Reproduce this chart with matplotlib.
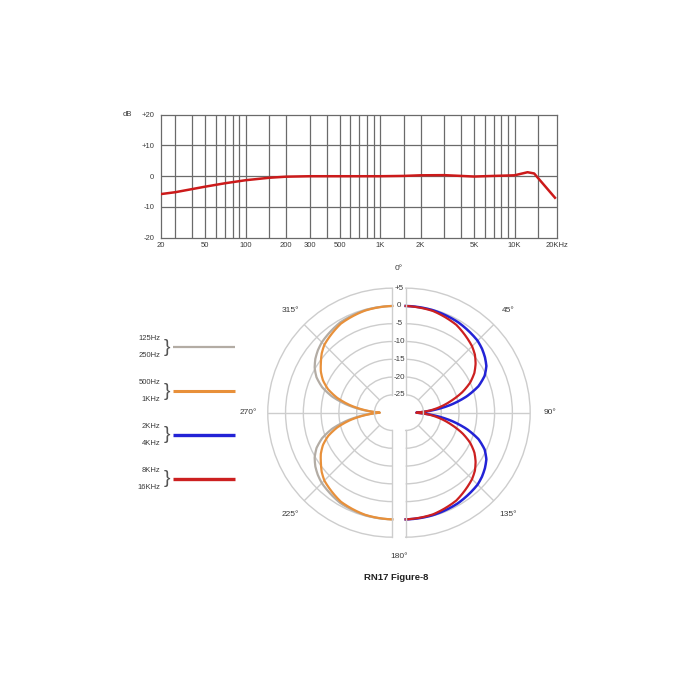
import numpy as np
import matplotlib
matplotlib.use("Agg")
import matplotlib.pyplot as plt
from matplotlib.transforms import offset_copy

plt.rcParams['font.family'] = ['Liberation Sans', 'DejaVu Sans']

# --- Frequency response (top chart) ---
FREQ_HZ = [20, 30, 50, 70, 100, 150, 200, 300, 500, 1000, 1500, 2000,
           3000, 4000, 5000, 7000, 10000, 12500, 14000, 20000]
RESP_DB = [-6.2, -5.2, -3.4, -2.3, -1.3, -0.5, -0.15, 0.0, 0.0, 0.0, 0.1, 0.3,
           0.35, 0.1, -0.1, 0.1, 0.3, 1.3, 0.9, -7.0]

FREQ_GRID = [30, 40, 50, 60, 70, 80, 90, 100, 150, 200, 300, 400, 500, 600,
             700, 800, 900, 1000, 1500, 2000, 3000, 4000, 5000, 6000, 7000,
             8000, 9000, 10000, 15000]
FREQ_LABELS = {50: "50", 100: "100", 200: "200", 300: "300", 500: "500",
               1000: "1K", 2000: "2K", 5000: "5K", 10000: "10K"}
DB_TICKS = [-20, -10, 0, 10, 20]
DB_LABELS = ["-20", "-10", "0", "+10", "+20"]

# --- Polar pattern (bottom chart) ---
ANG_R = [0, 15, 30, 45, 50, 55, 60, 65, 70, 75, 80, 85, 88, 90,
         92, 95, 100, 105, 110, 115, 120, 125, 130, 135, 150, 165, 180]
ANG_L = [180, 195, 210, 225, 230, 235, 240, 245, 250, 255, 260, 265, 268, 270,
         272, 275, 280, 285, 290, 295, 300, 305, 310, 315, 330, 345, 360]

PAT_125_250 = [0, -0.2, -0.7, -2.0, -2.7, -3.6, -4.8, -6.5, -9.0, -12.5, -17.0, -22.0, -25.0, -26.5,
               -25.0, -22.0, -17.0, -12.5, -9.0, -6.5, -4.8, -3.6, -2.7, -2.0, -0.7, -0.2, 0]
PAT_500_1K = [0, -0.3, -1.1, -3.0, -4.1, -5.5, -6.8, -8.5, -10.8, -14.0, -18.0, -22.5, -25.0, -26.5,
              -25.0, -22.5, -18.0, -14.0, -10.8, -8.5, -6.8, -5.5, -4.1, -3.0, -1.1, -0.3, 0]
PAT_2K_4K = [0, -0.2, -0.6, -1.4, -2.0, -2.8, -3.8, -5.5, -8.2, -12.2, -17.0, -22.5, -25.5, -27.0,
             -25.5, -22.5, -17.0, -12.2, -8.2, -5.5, -3.8, -2.8, -2.0, -1.4, -0.6, -0.2, 0]
PAT_8K_16K = [0, -0.4, -1.5, -3.6, -4.6, -6.0, -7.7, -10.0, -13.0, -16.5, -19.8, -23.2, -25.8, -27.0,
              -25.8, -23.2, -19.8, -16.5, -13.0, -10.0, -7.7, -6.0, -4.6, -3.6, -1.5, -0.4, 0]

RING_DB = [-20, -15, -10, -5, 0]
RING_LABELS = ["+5", "0", "-5", "-10", "-15", "-20", "-25"]
RING_LABEL_DB = [5, 0, -5, -10, -15, -20, -25]

BANDS = [("125Hz", "250Hz", "#b3aca4", 1.2),
         ("500Hz", "1KHz", "#e8903a", 1.8),
         ("2KHz", "4KHz", "#2323d6", 2.0),
         ("8KHz", "16KHz", "#cc2020", 2.0)]

GRID_DARK = "#6a6a6a"
GRID_LIGHT = "#cdcdcd"
TXT = "#3a3a3a"

fig = plt.figure(figsize=(7, 7), dpi=100)

# ---------------- top: frequency response ----------------
ax = fig.add_axes([0.23, 0.6604, 0.5657, 0.1757])
ax.set_xscale("log")
ax.set_xlim(23.5, 20700)
ax.set_ylim(-20, 20)
ax.plot(FREQ_HZ, RESP_DB, color="#cc1a1a", lw=1.8, zorder=3)
for f in FREQ_GRID:
    ax.axvline(f, color=GRID_DARK, lw=0.9, zorder=1)
for d in DB_TICKS[1:-1]:
    ax.axhline(d, color=GRID_DARK, lw=0.9, zorder=1)
for s in ax.spines.values():
    s.set_color(GRID_DARK)
    s.set_linewidth(0.9)
ax.xaxis.set_minor_locator(plt.NullLocator())
xt = [23.5] + list(FREQ_LABELS.keys()) + [20700]
ax.set_xticks(xt, ["20"] + list(FREQ_LABELS.values()) + ["20KHz"])
ax.set_yticks(DB_TICKS, DB_LABELS)
ax.tick_params(length=0, labelsize=5.5, colors=TXT, pad=3)
ax.tick_params(axis="y", pad=5)
ax.text(-0.073, 20, "dB", transform=ax.get_yaxis_transform(), ha="right",
        va="center", fontsize=5.5, color=TXT)

# ---------------- bottom: polar pattern ----------------
def half_polar(rect, tmin, tmax, ticks):
    p = fig.add_axes(rect, projection="polar")
    p.set_theta_zero_location("N")
    p.set_theta_direction(-1)
    p.set_thetamin(tmin)
    p.set_thetamax(tmax)
    p.set_rlim(-25, 5)
    p.set_rorigin(-30)
    p.set_rticks(RING_DB)
    p.set_yticklabels([])
    p.set_xticks(np.deg2rad(ticks))
    p.set_xticklabels([])
    p.grid(color=GRID_LIGHT, lw=1.0)
    p.patch.set_facecolor("none")
    for s in p.spines.values():
        s.set_color(GRID_LIGHT)
        s.set_linewidth(1.0)
    return p


def polar_curve(p, ang, vals, col, lw):
    line, = p.plot(np.deg2rad(ang), vals, color=col, lw=lw, clip_on=False,
                   solid_joinstyle="round")
    # let the polar transform draw each segment as a smooth arc
    line.recache()
    line._path._interpolation_steps = 60
    return line


size = 249 / 700
axr = half_polar([0.4906, 0.2326, size, size], 0, 180, [45, 90, 135])
axl = half_polar([0.2936, 0.2326, size, size], 180, 360, [225, 270, 315])

polar_curve(axl, ANG_L, PAT_125_250, BANDS[0][2], 1.6)
polar_curve(axl, ANG_L, PAT_500_1K, BANDS[1][2], 1.6)
polar_curve(axr, ANG_R, PAT_2K_4K, BANDS[2][2], 1.8)
polar_curve(axr, ANG_R, PAT_8K_16K, BANDS[3][2], 1.6)

# ring labels in the gap between the halves
gap = offset_copy(axr.transData, fig=fig, x=-6.5, y=0, units="dots")
for d, lab in zip(RING_LABEL_DB, RING_LABELS):
    axr.text(0, d, lab, transform=gap, ha="center", va="center", fontsize=5.8,
             color=TXT, clip_on=False,
             bbox=dict(fc="white", ec="none", pad=0.4))

# angle labels
for a in [45, 90, 135]:
    axr.text(np.deg2rad(a), 10.6, f"{a}°", ha="center", va="center",
             fontsize=6, color=TXT, clip_on=False)
for a in [225, 270, 315]:
    axl.text(np.deg2rad(a), 10.6, f"{a}°", ha="center", va="center",
             fontsize=6, color=TXT, clip_on=False)
for a in [0, 180]:
    axr.text(np.deg2rad(a), 10.5, f"{a}°", transform=gap, ha="center",
             va="center", fontsize=6, color=TXT, clip_on=False)

fig.text(396 / 700, 1 - 578 / 700, "RN17 Figure-8", ha="center", va="center",
         fontsize=6.8, fontweight="bold", color="#222222")

# ---------------- legend ----------------
leg = fig.add_axes([0, 0, 1, 1], zorder=-1)
leg.set_xlim(0, 700)
leg.set_ylim(700, 0)
leg.axis("off")
for i, (lo, hi, col, lw_leg) in enumerate(BANDS):
    y0 = 347.3 + i * 43.8
    leg.text(160, y0 - 8.5, lo, ha="right", va="center", fontsize=5.5, color=TXT)
    leg.text(160, y0 + 8.5, hi, ha="right", va="center", fontsize=5.5, color=TXT)
    leg.text(164, y0, "}", ha="left", va="center", fontsize=14, color="#555555",
             fontweight="light")
    leg.plot([173, 235], [y0, y0], color=col, lw=lw_leg + 0.4, solid_capstyle="butt")

fig.savefig("out.png", dpi=100, facecolor="white")
